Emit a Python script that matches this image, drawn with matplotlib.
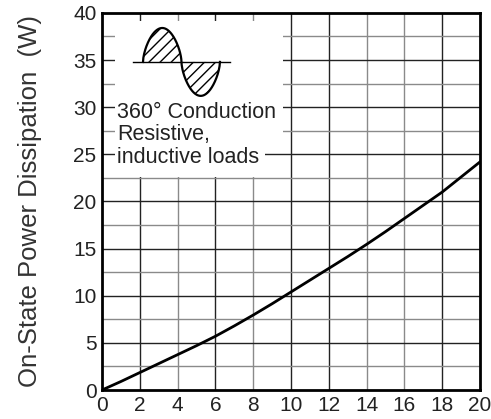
import numpy as np
import matplotlib
matplotlib.use("Agg")
from matplotlib import pyplot as plt
from matplotlib.patches import Rectangle

plt.rcParams['font.family'] = ['Liberation Sans', 'DejaVu Sans']

# curve
current = [0, 1, 2, 3, 4, 5, 6, 7, 8, 9, 10, 11, 12, 13, 14, 15, 16, 17, 18, 19, 20]
power = [0, 0.9, 1.85, 2.8, 3.75, 4.7, 5.7, 6.8, 7.95, 9.15, 10.4, 11.65, 12.9, 14.15, 15.45, 16.8, 18.2, 19.6, 21.0, 22.6, 24.2]

xticks = [0, 2, 4, 6, 8, 10, 12, 14, 16, 18, 20]
yticks = [0, 5, 10, 15, 20, 25, 30, 35, 40]
ylabel = "On-State Power Dissipation  (W)"
note = "360° Conduction\nResistive,\ninductive loads"

fig = plt.figure(figsize=(4.91, 4.19), dpi=100)
ax = fig.add_axes([0.2077, 0.0692, 0.77, 0.9])
ax.set_xlim(0, 20)
ax.set_ylim(0, 40)

# grid lines
dark = '#222222'
light = '#8a8a8a'
for x in range(2, 20, 2):
    ax.axvline(x, color=dark if x in (2, 6, 10, 12, 18) else light, lw=1.0, zorder=1)
for y in np.arange(2.5, 40, 2.5):
    ax.axhline(y, color=dark if y % 5 == 0 else light, lw=1.0, zorder=1)

# white patch behind inset
ax.add_patch(Rectangle((0.7, 26.3), 8.9, 12.8, facecolor='white', edgecolor='none', zorder=2))
ax.add_patch(Rectangle((0.7, 22.6), 7.9, 3.8, facecolor='white', edgecolor='none', zorder=2))

# sine wave symbol
t = np.linspace(0, 2 * np.pi, 200)
xs = 2.17 + (6.24 - 2.17) * t / (2 * np.pi)
ys = 34.8 + 3.6 * np.sign(np.sin(t)) * np.abs(np.sin(t)) ** 0.6
ax.plot([1.64, 6.77], [34.8, 34.8], color='black', lw=1.0, zorder=3)
ax.fill_between(xs, 34.8, ys, facecolor='none', edgecolor='black', hatch='///', lw=0, zorder=3)
ax.plot(xs, ys, color='black', lw=1.6, zorder=4)

ax.text(0.8, 30.6, note, fontsize=15.5, va='top', ha='left', linespacing=1.1,
        color='#222222', zorder=5)

ax.plot(current, power, color='black', lw=2.0, zorder=6)

ax.set_xticks(xticks)
ax.set_yticks(yticks)
ax.tick_params(length=0, labelsize=15, pad=4, labelcolor='#222222')
for s in ax.spines.values():
    s.set_linewidth(2.0)
ax.set_ylabel(ylabel, fontsize=18.5, labelpad=22, color='#333333')

fig.savefig("out.png", dpi=100)
